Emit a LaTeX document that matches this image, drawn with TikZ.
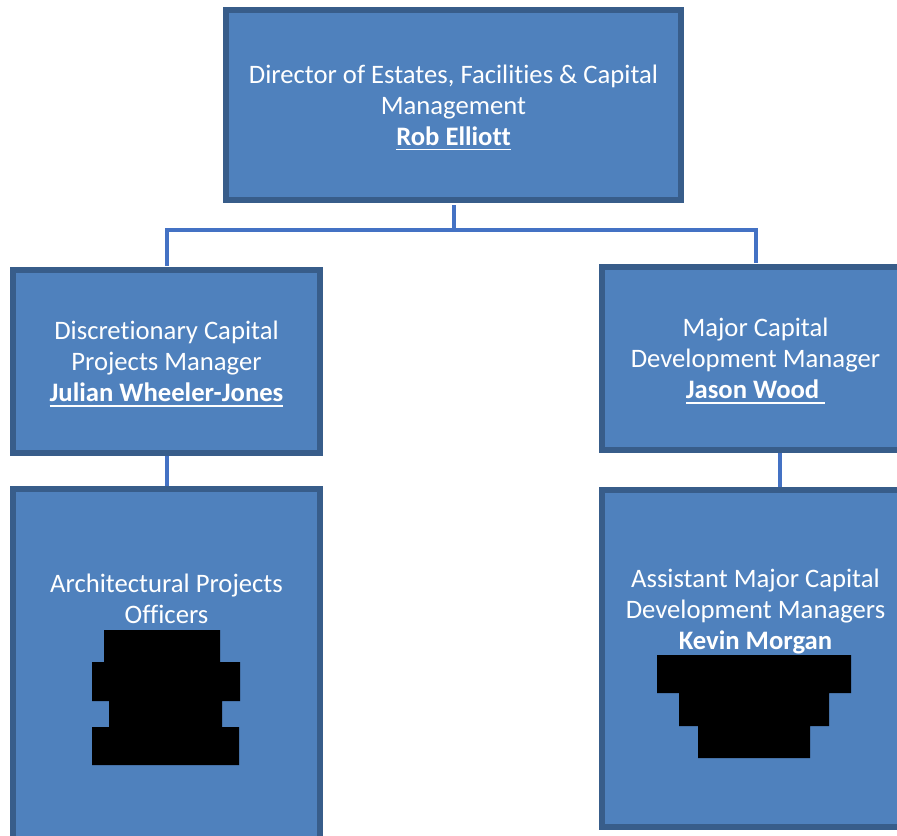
\documentclass[tikz,border=0pt]{standalone}
\usepackage{fontspec}
\setmainfont{Carlito}[Ligatures=NoCommon]
\usetikzlibrary{positioning, calc}

\definecolor{boxfill}{HTML}{4F81BD}
\definecolor{boxline}{HTML}{385D8A}
\definecolor{linkblue}{HTML}{4472C4}

% bold name with a thick underline
\newcommand{\nameline}[1]{\setbox0=\hbox{\bfseries #1}\rlap{\smash{\rule[-3.9pt]{\wd0}{1.3pt}}}\box0}

\begin{document}
\begin{tikzpicture}[x=0.75pt, y=-0.75pt,
post/.style={rectangle,draw=boxline,fill=boxfill,line width=4.5pt,inner sep=0pt,
  text=white,align=center,font=\fontsize{20}{23.25}\selectfont},
lbl/.style={inner sep=0pt,text=white,align=center,font=\fontsize{20}{23.25}\selectfont},
link/.style={draw=linkblue,line width=3pt}]

\clip (0,0) rectangle (897,836);

%connectors
\coordinate (fork) at (453.5,230);
\coordinate (dcpin) at (166.5,266);
\coordinate (mcdin) at (755.5,263);
\draw[link] (453.5,205) -- (fork);
\draw[link] (fork) -| (dcpin);
\draw[link] (fork) -| (mcdin);
\draw[link] (166.5,456) -- (166.5,487);
\draw[link] (780,452) -- (780,488);

%boxes
\path 
	node[post, minimum width=341.25pt, minimum height=142.5pt] (dir) at (453.5,105)
	{Director of Estates, Facilities \& Capital\\Management\\\nameline{Rob Elliott}}
	node[post, minimum width=230.25pt, minimum height=137.25pt] (dcp) at (166.5,361.5)
	{Discretionary Capital\\Projects Manager\\\nameline{Julian Wheeler-Jones}}
	node[post, minimum width=230.25pt, minimum height=137.25pt] (mcd) at (755.5,358.5)
	{Major Capital\\Development Manager\\\nameline{Jason Wood\ }}
	node[post, minimum width=230.25pt, minimum height=276pt] (apo) at (166.5,673) {}
	node[post, minimum width=230.25pt, minimum height=252.75pt] (amcd) at (755.5,658.5) {};

%texts in the lower boxes
\node[lbl] (apotext) at (166.5,599) {Architectural Projects\\Officers};
\node[lbl] (amcdtext) at (755.5,611) {Assistant Major Capital\\Development Managers\\\textbf{Kevin Morgan}};

%redacted names
\fill[black] (104,630) -- (220,630) -- (220,662) -- (240,662) -- (240,701) -- (222,701)
	-- (222,727) -- (239,727) -- (239,765) -- (92,765) -- (92,727) -- (109,727)
	-- (109,701) -- (92,701) -- (92,662) -- (104,662) -- cycle;
\fill[black] (657,655) -- (851,655) -- (851,693) -- (829,693) -- (829,726) -- (810,726)
	-- (810,758) -- (698,758) -- (698,726) -- (679,726) -- (679,693) -- (657,693) -- cycle;
\end{tikzpicture}
\end{document}
